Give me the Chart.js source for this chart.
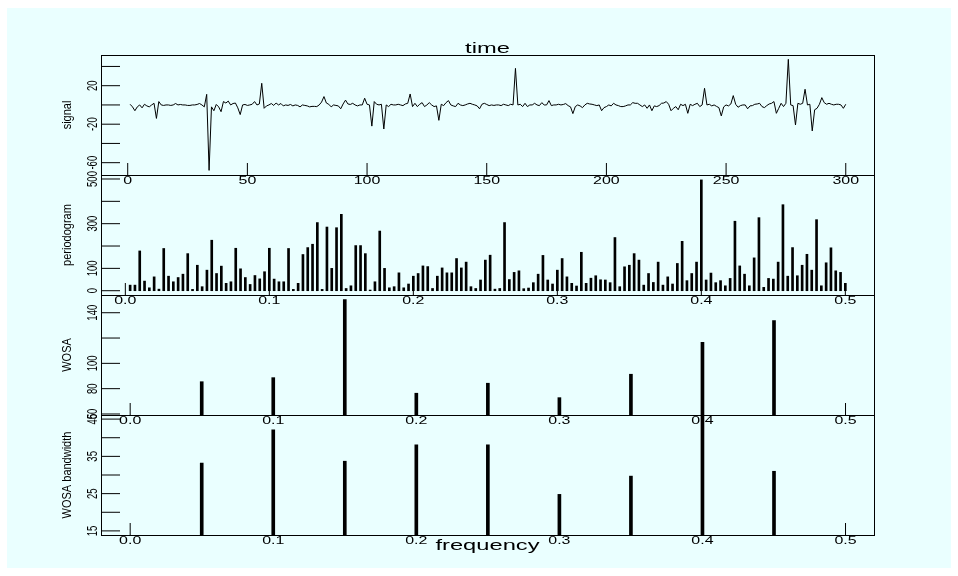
<!DOCTYPE html>
<html>
<head>
<meta charset="utf-8">
<script src="https://cdn.jsdelivr.net/npm/chart.js@4"></script>
<style>
html,body{margin:0;padding:0;background:#fff;}
#wrap{position:relative;width:958px;height:576px;}
#bg{position:absolute;left:7px;top:8px;width:944px;height:560px;background:#eaffff;}
canvas{position:absolute;left:0;top:0;}
</style>
</head>
<body>
<div id="wrap">
<div id="bg"></div>
<canvas id="c1" width="958" height="576"></canvas>
<canvas id="c2" width="958" height="576"></canvas>
<canvas id="c3" width="958" height="576"></canvas>
<canvas id="c4" width="958" height="576"></canvas>
</div>
<script>
// signal, t = 1..300
const signal = [
0.7,-2,-6,-2,0,-3,0.7,-1,-2,0,
1.7,-14,3.5,0,-0.5,0,0,-0.5,0,1.5,
0,0.5,0,0,-0.5,-0.5,0,0,0.5,1.5,
0,-2,11,-68,-2,-6,0.5,-2,-7,3.5,
2,4,0,1.5,2,-3,-10,0,0.5,-0.5,
0,0.7,3.5,0,1,22.5,-3.5,-1,0,1.5,
-0.5,2,0,1.5,-1,0,-0.5,0.5,-1,0,
-0.5,-2,0,-0.5,-1,-2,-1.5,-1.5,-1.7,0,
3,8.7,2,0.7,-2,0,-0.5,-1,-4,1,
5,1,0.5,1.7,0,-1,0,0,7,0.7,
0,-22,3.5,0.7,0,0.7,-25,0,-1.7,0.7,
0,0,0.7,0,-0.7,1,1.7,11.4,-1.7,1.7,
-1.7,0.7,2.4,-1.7,0,2.4,0,-1.7,-1,-16,
0.7,-0.7,2.4,4.5,0,-1,-1.7,1.7,0,-0.7,
0,1,1.7,0.7,0,-1,-4,0.7,1.7,0.5,
-0.7,0,-0.5,0,0,-0.7,0.7,0,-0.7,0.7,
0,38,0,0.7,-1.7,1.7,-1.7,0,0,1.7,
0,-0.7,2.4,0,0,4.5,-0.7,0,0,0.7,
0,0.5,1.4,-0.7,-2,-9,-1.7,0,-1,-2.8,
0,1.7,1,0.7,0,-0.7,0,-6,-2.8,-1.7,
0,-1,1.7,0,-0.7,-1.7,-1.7,-1,0,0,
2.4,1.7,1.7,0,-1.7,0,-3.5,0,-6,-1,
-1.7,-0.7,1.7,2,3.5,0.7,-6,-3.5,-1.7,-5,
0.7,-0.7,0.7,-8.7,0.7,-0.7,0.7,1.7,-1.7,0,
17.3,0,0.7,-1,0,-1.5,-2.8,-11.4,-2,0,
-1,1,9.7,0.7,-2.4,-0.7,0,0,-4,-1,
-0.7,0.7,1,1.7,-1.7,-2.8,-0.7,1,1.7,3.5,
-8.7,-3.5,1.7,-1.7,1.7,47.4,0,-0.7,-20.8,1.7,
0.7,1.7,16.3,0,0.7,-27,-5,-3.5,0.7,7.6,
2.4,0.7,1.7,0.7,0,0.7,0.7,0,-3.5,0.7
];
const time = signal.map((v,i)=>i+1);

// periodogram at k/300, k = 1..150
const perio = [
25,25,178,43,13,62,7,189,65,40,
59,74,166,6,114,18,92,226,77,110,
33,40,190,98,59,28,68,53,85,190,
52,40,40,189,6,33,162,193,208,305,
6,285,100,282,342,10,22,202,202,166,
3,40,267,100,13,18,80,13,30,65,
77,111,108,10,65,102,80,80,144,102,
128,18,10,48,137,159,7,10,305,50,
82,89,9,12,36,74,158,48,30,92,
144,62,33,21,172,33,56,67,49,48,
36,238,18,107,114,166,137,25,77,37,
128,25,62,30,122,221,45,77,128,496,
48,79,36,45,22,55,311,111,74,22,
147,327,15,55,52,128,385,65,193,67,
114,163,92,318,22,125,192,89,82,33
];
const perioFreq = perio.map((v,i)=>(i+1)/300);

const wosaFreq = [0.05,0.1,0.15,0.2,0.25,0.3,0.35,0.4,0.45];
const wosa = [85.5,88.7,150.4,76.4,84.3,72.9,91.4,116.7,133.8];
const bandwidth = [33.2,42.1,33.7,38.1,38.1,24.8,29.7,46.5,31.0];

const timeTicks = [0,50,100,150,200,250,300];
const freqTicks = [0,0.1,0.2,0.3,0.4,0.5];
const freqLabels = ['0.0','0.1','0.2','0.3','0.4','0.5'];
const signalTicks = [-60,-40,-20,0,20,40];
const signalLabels = [-60,-20,20];
const perioTicks = [0,100,200,300,400,500];
const perioLabels = [0,100,300,500];
const wosaTicks = [60,80,100,120,140];
const wosaLabels = [60,80,100,140];
const bwTicks = [15,20,25,30,35,40,45];
const bwLabels = [15,25,35,45];

const FONT = '"Liberation Sans", Arial, Helvetica, sans-serif';

function stretchText(ctx, s, x, y, size, sx, rot, align, base) {
  ctx.save();
  ctx.translate(x, y);
  ctx.scale(sx, 1);
  if (rot) ctx.rotate(-Math.PI/2);
  ctx.font = size + 'px ' + FONT;
  ctx.fillStyle = '#000';
  ctx.textAlign = align;
  ctx.textBaseline = base;
  ctx.fillText(s, 0, 0);
  ctx.restore();
}

const axesDeco = {
  id: 'axesDeco',
  afterDraw(chart, args, o) {
    const ctx = chart.ctx, a = chart.chartArea;
    const xs = chart.scales.x, ys = chart.scales.y;
    ctx.save();
    ctx.strokeStyle = '#000';
    ctx.lineWidth = 1;
    ctx.strokeRect(Math.round(a.left)+0.5, Math.round(a.top)+0.5,
      Math.round(a.right-a.left), Math.round(a.bottom-a.top));
    o.xTicks.forEach((v,i)=>{
      const px = xs.getPixelForValue(v);
      ctx.beginPath();
      ctx.moveTo(px, a.bottom);
      ctx.lineTo(px, a.bottom-12);
      ctx.stroke();
      stretchText(ctx, o.xLabels[i], px, a.bottom+9, 11, 1.45, false, 'center', 'alphabetic');
    });
    o.yTicks.forEach(v=>{
      const py = ys.getPixelForValue(v);
      ctx.beginPath();
      ctx.moveTo(a.left, py);
      ctx.lineTo(a.left+19, py);
      ctx.stroke();
      if (o.yLabels.includes(v))
        stretchText(ctx, String(v), 97, py, 9.5, 1.45, true, 'center', 'alphabetic');
    });
    stretchText(ctx, o.yTitle, 71, (a.top+a.bottom)/2, 11, 1.15, true, 'center', 'alphabetic');
    if (o.top) stretchText(ctx, o.top, (a.left+a.right)/2, a.top-2.5, 15, 1.58, false, 'center', 'alphabetic');
    if (o.bottom) stretchText(ctx, o.bottom, (a.left+a.right)/2, a.bottom+15, 15, 1.58, false, 'center', 'alphabetic');
    ctx.restore();
  }
};

function panel(id, type, dataset, top, bottom, xr, yr, deco) {
  return new Chart(document.getElementById(id), {
    type: type,
    data: { datasets: [dataset] },
    options: {
      responsive: false,
      animation: false,
      devicePixelRatio: 1,
      layout: { padding: { left: 101, right: 958-874, top: top, bottom: 576-bottom } },
      plugins: { legend: { display: false }, tooltip: { enabled: false }, axesDeco: deco },
      scales: {
        x: { type: 'linear', min: xr[0], max: xr[1], offset: false, display: false },
        y: { type: 'linear', min: yr[0], max: yr[1], display: false }
      }
    },
    plugins: [axesDeco]
  });
}

panel('c1', 'line', {
  data: time.map((t,i)=>({x:t, y:signal[i]})),
  borderColor: '#000', borderWidth: 1, pointRadius: 0, tension: 0, fill: false
}, 55, 175, [-11.16, 311.8], [-72.8, 51.9], {
  xTicks: timeTicks, xLabels: timeTicks.map(String),
  yTicks: signalTicks, yLabels: signalLabels, yTitle: 'signal', top: 'time'
});

panel('c2', 'bar', {
  data: perioFreq.map((f,i)=>({x:f, y:perio[i]})),
  backgroundColor: '#000', barThickness: 2, borderWidth: 0
}, 175, 295, [-0.0169, 0.5199], [-19.2, 517.9], {
  xTicks: freqTicks, xLabels: freqLabels,
  yTicks: perioTicks, yLabels: perioLabels, yTitle: 'periodogram'
});

panel('c3', 'bar', {
  data: wosaFreq.map((f,i)=>({x:f, y:wosa[i]})),
  backgroundColor: '#000', barThickness: 3, borderWidth: 0
}, 295, 415, [-0.0204, 0.5199], [59.2, 154.0], {
  xTicks: freqTicks, xLabels: freqLabels,
  yTicks: wosaTicks, yLabels: wosaLabels, yTitle: 'WOSA'
});

panel('c4', 'bar', {
  data: wosaFreq.map((f,i)=>({x:f, y:bandwidth[i]})),
  backgroundColor: '#000', barThickness: 3, borderWidth: 0
}, 415, 535, [-0.0204, 0.5199], [13.9, 46.1], {
  xTicks: freqTicks, xLabels: freqLabels,
  yTicks: bwTicks, yLabels: bwLabels, yTitle: 'WOSA bandwidth', bottom: 'frequency'
});
</script>
</body>
</html>
